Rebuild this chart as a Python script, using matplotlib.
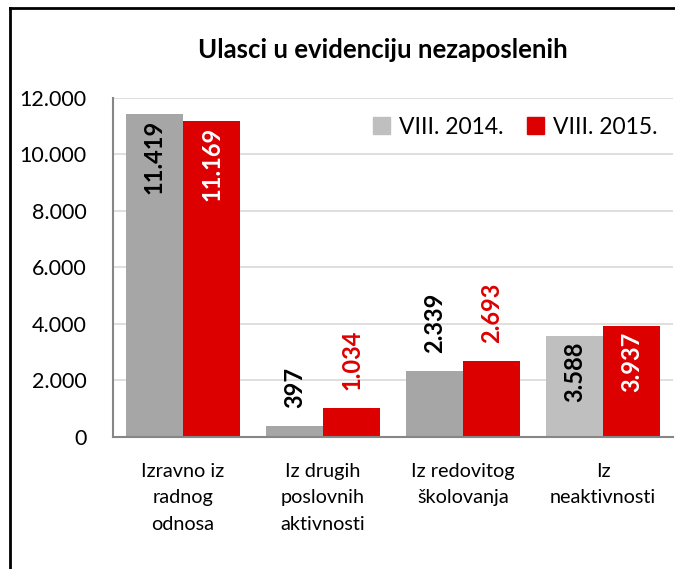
import matplotlib.pyplot as plt
import numpy as np
from matplotlib.patches import Patch
from matplotlib.lines import Line2D

plt.rcParams['font.family'] = ['Lato', 'DejaVu Sans']

kategorije = ['Izravno iz\nradnog\nodnosa', 'Iz drugih\nposlovnih\naktivnosti',
              'Iz redovitog\nškolovanja', 'Iz\nneaktivnosti']
god_2014 = [11419, 397, 2339, 3588]
god_2015 = [11169, 1034, 2693, 3937]
oznake_2014 = ['11.419', '397', '2.339', '3.588']
oznake_2015 = ['11.169', '1.034', '2.693', '3.937']
unutra = [True, False, False, True]   # label inside bar or above it
yticks = [0, 2000, 4000, 6000, 8000, 10000, 12000]
ytick_labels = ['0', '2.000', '4.000', '6.000', '8.000', '10.000', '12.000']

siva = ['#A6A6A6', '#A6A6A6', '#A6A6A6', '#BFBFBF']
crvena = '#DD0000'

fig = plt.figure(figsize=(6.75, 5.69), dpi=100)
ax = fig.add_axes([0.1674, 0.232, 0.8296, 0.5958])

x = np.arange(len(kategorije))
w = 0.41
b1 = ax.bar(x - w/2, god_2014, w, color=siva, zorder=2)
b2 = ax.bar(x + w/2, god_2015, w, color=crvena, zorder=2)

for i in range(len(x)):
    if unutra[i]:
        ax.annotate(oznake_2014[i], (x[i] - w/2, god_2014[i]), xytext=(0, -4),
                    textcoords='offset points', rotation=90, ha='center', va='top',
                    fontsize=17, fontweight='bold', color='black')
        ax.annotate(oznake_2015[i], (x[i] + w/2, god_2015[i]), xytext=(0, -4),
                    textcoords='offset points', rotation=90, ha='center', va='top',
                    fontsize=17, fontweight='bold', color='white')
    else:
        ax.annotate(oznake_2014[i], (x[i] - w/2, god_2014[i]), xytext=(0, 13),
                    textcoords='offset points', rotation=90, ha='center', va='bottom',
                    fontsize=17, fontweight='bold', color='black')
        ax.annotate(oznake_2015[i], (x[i] + w/2, god_2015[i]), xytext=(0, 13),
                    textcoords='offset points', rotation=90, ha='center', va='bottom',
                    fontsize=17, fontweight='bold', color=crvena)

ax.set_xlim(-0.5, len(x) - 0.5)
ax.set_ylim(0, 12000)
ax.set_yticks(yticks)
ax.set_yticklabels(ytick_labels, fontsize=15.5)
ax.set_xticks(x)
ax.set_xticklabels(kategorije, fontsize=14.3, linespacing=1.65, va='top')
ax.tick_params(axis='y', length=0, pad=19)
ax.tick_params(axis='x', length=0, pad=19)
ax.yaxis.grid(True, color='#D9D9D9', linewidth=1.2, zorder=0)
ax.set_axisbelow(True)
for s in ['top', 'right']:
    ax.spines[s].set_visible(False)
for s in ['left', 'bottom']:
    ax.spines[s].set_color('#868686')
    ax.spines[s].set_linewidth(1.5)
    ax.spines[s].set_zorder(3)

fig.text(383/675, 1 - 50/569, 'Ulasci u evidenciju nezaposlenih', ha='center', va='center',
         fontsize=18.5, fontweight='bold')

handles = [Patch(color='#BFBFBF', label='VIII. 2014.'), Patch(color=crvena, label='VIII. 2015.')]
fig.legend(handles=handles, loc='center left', bbox_to_anchor=(0.522, 1 - 127/569), ncol=2,
           frameon=False, fontsize=16.5, handlelength=0.75, handleheight=0.75,
           handletextpad=0.4, columnspacing=1.0)

# black frame on left and top
fig.add_artist(Line2D([10/675, 10/675], [0, 1 - 8/569], color='black', linewidth=2))
fig.add_artist(Line2D([10/675, 1], [1 - 8/569, 1 - 8/569], color='black', linewidth=2))

fig.savefig('out.png', dpi=100)
